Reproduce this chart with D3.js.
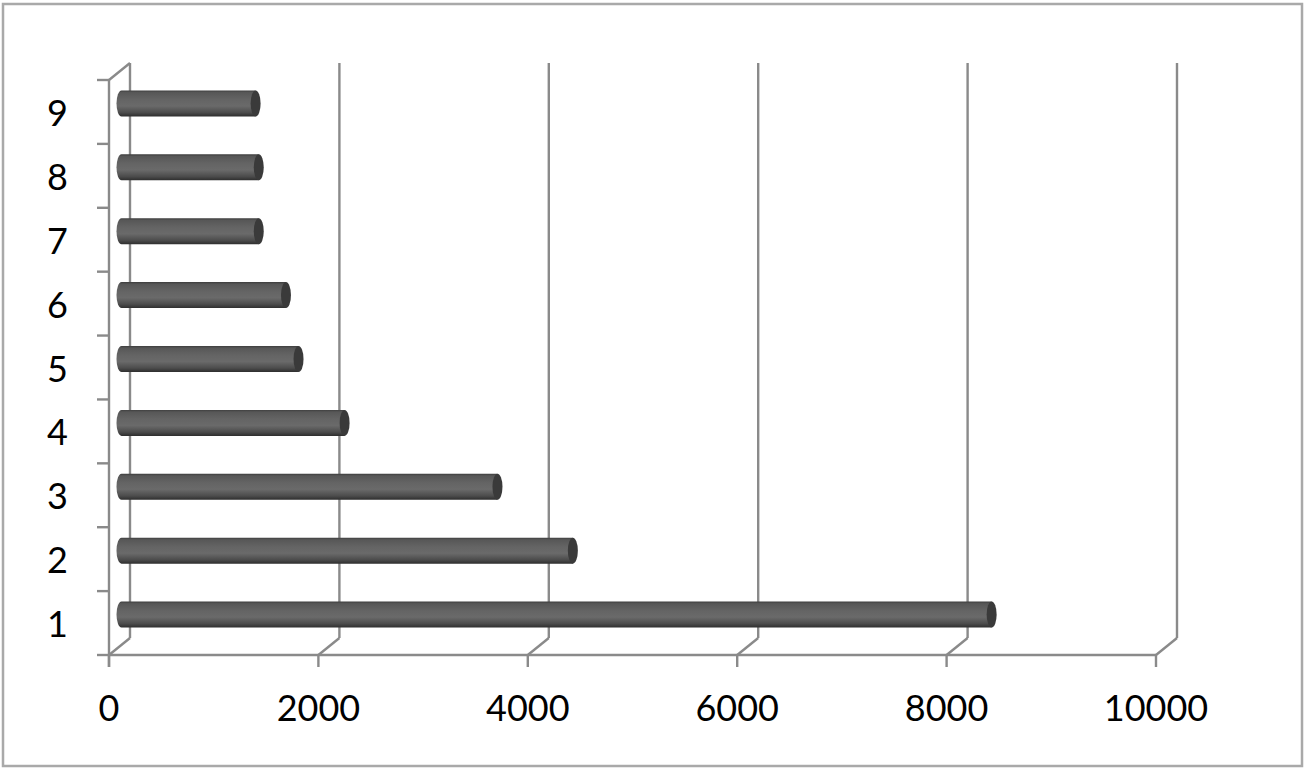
<!DOCTYPE html>
<html><head><meta charset="utf-8">
<script src="https://cdn.jsdelivr.net/npm/d3@7"></script>
<style>html,body{margin:0;padding:0;background:#fff}svg{display:block}</style>
</head><body>
<svg id="c" width="1316" height="769"></svg>
<script>
const categories = ["1","2","3","4","5","6","7","8","9"];
const values = [8330, 4330, 3610, 2150, 1710, 1590, 1330, 1330, 1300];
const xTicks = [0, 2000, 4000, 6000, 8000, 10000];

const svg = d3.select("#c");
const gridColor = "#8a8a8a";
const font = "Lato, 'Open Sans', sans-serif";

// outer border
svg.append("rect").attr("x",3).attr("y",4).attr("width",1299).attr("height",762)
  .attr("fill","#fff").attr("stroke","#a9a9a9").attr("stroke-width",2.5);

const x = d3.scaleLinear().domain([0,10000]).range([109,1156]);
const y = d3.scaleBand().domain(categories).range([655,80]).paddingInner(0).paddingOuter(0);
const DX = 21, DY = -17; // depth offset (front -> back)
const yTop = 80, yBot = 655;
const sw = 2.4;

const g = svg.append("g");
g.selectAll("line.grid").data(xTicks).join("line")
  .attr("x1",d=>x(d)+DX).attr("x2",d=>x(d)+DX)
  .attr("y1",yTop+DY).attr("y2",yBot+DY)
  .attr("stroke",gridColor).attr("stroke-width",sw);
g.selectAll("line.fd").data(xTicks).join("line")
  .attr("x1",d=>x(d)).attr("x2",d=>x(d)+DX)
  .attr("y1",yBot).attr("y2",yBot+DY)
  .attr("stroke",gridColor).attr("stroke-width",sw);
g.append("line").attr("x1",x(0)).attr("x2",x(10000)).attr("y1",yBot).attr("y2",yBot)
  .attr("stroke",gridColor).attr("stroke-width",sw);
g.selectAll("line.xt").data(xTicks).join("line")
  .attr("x1",d=>x(d)).attr("x2",d=>x(d)).attr("y1",yBot).attr("y2",yBot+12)
  .attr("stroke",gridColor).attr("stroke-width",sw);
g.append("line").attr("x1",x(0)).attr("x2",x(0)).attr("y1",yTop).attr("y2",yBot+12)
  .attr("stroke",gridColor).attr("stroke-width",sw);
g.append("line").attr("x1",x(0)).attr("x2",x(0)+DX).attr("y1",yTop).attr("y2",yTop+DY)
  .attr("stroke",gridColor).attr("stroke-width",sw);
const yb = categories.map(c=>y(c)).concat([yBot]);
g.selectAll("line.yt").data(yb).join("line")
  .attr("x1",x(0)-12).attr("x2",x(0)).attr("y1",d=>d).attr("y2",d=>d)
  .attr("stroke",gridColor).attr("stroke-width",sw);

const defs = svg.append("defs");
const grad = defs.append("linearGradient").attr("id","cyl").attr("x1",0).attr("x2",0).attr("y1",0).attr("y2",1);
[[0,"#3e3e3e"],[0.08,"#575757"],[0.35,"#646464"],[0.6,"#6a6a6a"],[0.85,"#4c4c4c"],[1,"#2e2e2e"]]
  .forEach(([o,c])=>grad.append("stop").attr("offset",o).attr("stop-color",c));

const t = 0.5;
const bh = 26, rx = 5;
const data = categories.map((c,i)=>({c, v: values[i]}));
const bars = g.selectAll("g.bar").data(data).join("g");
bars.each(function(d){
  const cy = y(d.c) + y.bandwidth()/2 + DY*t;
  const x0 = x(0) + DX*t + rx - 3;
  const x1 = x(d.v) + DX*t;
  const ry = bh/2;
  const sel = d3.select(this);
  sel.append("path")
    .attr("d", `M${x0},${cy-ry} L${x1},${cy-ry} L${x1},${cy+ry} L${x0},${cy+ry} A${rx},${ry} 0 0 1 ${x0},${cy-ry} Z`)
    .attr("fill","url(#cyl)");
  sel.append("ellipse").attr("cx",x1).attr("cy",cy).attr("rx",rx).attr("ry",ry)
    .attr("fill","#3a3a3a");
});

svg.selectAll("text.yl").data(categories).join("text")
  .attr("x",68).attr("y",d=>y(d)+y.bandwidth()/2)
  .attr("text-anchor","end").attr("dominant-baseline","central")
  .attr("font-family",font).attr("font-size",36).attr("fill","#000")
  .text(d=>d);
svg.selectAll("text.xl").data(xTicks).join("text")
  .attr("x",d=>x(d)).attr("y",721)
  .attr("text-anchor","middle")
  .attr("font-family",font).attr("font-size",36).attr("fill","#000")
  .text(d=>d);
</script>
</body></html>
